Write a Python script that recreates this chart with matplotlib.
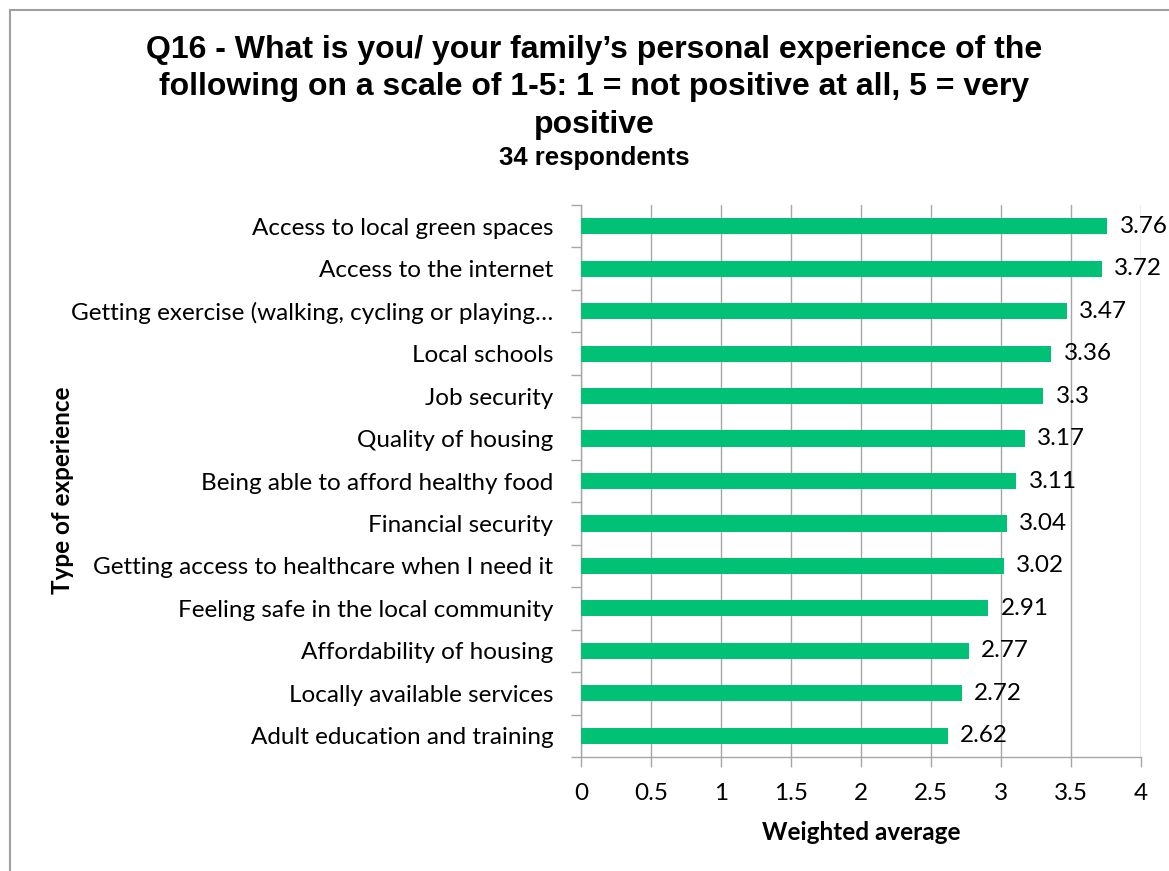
import matplotlib
matplotlib.use("Agg")
import matplotlib.pyplot as plt
from matplotlib.patches import Rectangle

categories = [
    "Access to local green spaces",
    "Access to the internet",
    "Getting exercise (walking, cycling or playing\u2026",
    "Local schools",
    "Job security",
    "Quality of housing",
    "Being able to afford healthy food",
    "Financial security",
    "Getting access to healthcare when I need it",
    "Feeling safe in the local community",
    "Affordability of housing",
    "Locally available services",
    "Adult education and training",
]
values = [3.76, 3.72, 3.47, 3.36, 3.3, 3.17, 3.11, 3.04, 3.02, 2.91, 2.77, 2.72, 2.62]
value_labels = ["3.76", "3.72", "3.47", "3.36", "3.3", "3.17", "3.11", "3.04", "3.02", "2.91", "2.77", "2.72", "2.62"]
x_ticks = [0, 0.5, 1, 1.5, 2, 2.5, 3, 3.5, 4]
x_tick_labels = ["0", "0.5", "1", "1.5", "2", "2.5", "3", "3.5", "4"]

W, H = 1169, 871
BAR = "#00C176"
GRID = "#A6A6A6"
BODY = "Lato"
TITLE = "Liberation Sans"
FS = 17.5

fig = plt.figure(figsize=(W / 100, H / 100), dpi=100)
fig.patch.set_facecolor("white")

# chart-area border
fig.patches.append(Rectangle((10 / W, -0.1), 1.2, (H - 10.5) / H + 0.1,
                             transform=fig.transFigure, fill=False,
                             edgecolor="#A0A0A0", linewidth=1.5))

left, right, top, bottom = 581, 1141, 205, 757
ax = fig.add_axes([left / W, (H - bottom) / H, (right - left) / W, (bottom - top) / H])

ypos = list(range(len(categories)))
ax.barh(ypos, values, height=0.38, color=BAR, zorder=3)
ax.set_ylim(len(categories) - 0.5, -0.5)
ax.set_xlim(0, 4)

for y, v, lab in zip(ypos, values, value_labels):
    ax.annotate(lab, (v, y), xytext=(9, 0), textcoords="offset points",
                ha="left", va="center", fontsize=FS, family=BODY, color="#000000", zorder=4)

ax.set_xticks(x_ticks)
ax.set_xticklabels(x_tick_labels, fontsize=FS, family=BODY)
ax.set_yticks([i - 0.5 for i in range(len(categories) + 1)], minor=False)
ax.set_yticklabels([])
ax.set_yticks(ypos, minor=True)
ax.set_yticklabels(categories, minor=True, fontsize=FS, family=BODY)
ax.tick_params(axis="y", which="minor", length=0, pad=20)
ax.tick_params(axis="y", which="major", length=7, width=1, color=GRID, direction="out")
ax.tick_params(axis="x", length=7, width=1, color=GRID, direction="out", pad=12)

ax.xaxis.grid(True, color=GRID, linewidth=1, zorder=0)
for s in ("top", "right"):
    ax.spines[s].set_visible(False)
for s in ("left", "bottom"):
    ax.spines[s].set_color(GRID)
    ax.spines[s].set_linewidth(1)

ax.set_xlabel("Weighted average", fontsize=FS, family=BODY, fontweight="bold", labelpad=12)
fig.text(63 / W, 1 - 490 / H, "Type of experience", rotation=90, ha="center", va="center",
         fontsize=FS, family=BODY, fontweight="bold")

title_lines = [
    "Q16 - What is you/ your family\u2019s personal experience of the",
    "following on a scale of 1-5: 1 = not positive at all, 5 = very",
    "positive",
]
for i, line in enumerate(title_lines):
    fig.text(594 / W, 1 - (50 + 37.5 * i) / H, line, ha="center", va="center",
             fontsize=23, family=TITLE, fontweight="bold")
fig.text(594 / W, 1 - 158 / H, "34 respondents", ha="center", va="center",
         fontsize=18.5, family=TITLE, fontweight="bold")

fig.savefig("out.png", dpi=100)
